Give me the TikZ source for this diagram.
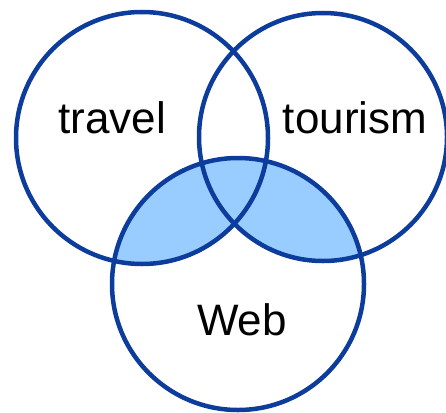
\documentclass[tikz,border=0pt]{standalone}
\usepackage{fontspec}
\setmainfont{Liberation Sans}
\definecolor{ringblue}{HTML}{0C3C9C}
\definecolor{fillblue}{HTML}{99CCFF}
\begin{document}
\begin{tikzpicture}[x=1pt,y=-1pt,
  ring/.style={draw=ringblue,line width=4.5pt},
  lbl/.style={anchor=base,font=\fontsize{44}{44}\selectfont,inner sep=0pt}]
\useasboundingbox (0,0) rectangle (446,412);
\coordinate (ct) at (142,138);
\coordinate (cr) at (323,137);
\coordinate (cw) at (238,284);
\begin{scope}
  \clip (cw) circle (126);
  \fill[fillblue] (ct) circle (126);
  \fill[fillblue] (cr) circle (124);
\end{scope}
\begin{scope}
  \clip (cw) circle (126);
  \clip (ct) circle (126);
  \fill[fillblue] (cr) circle (124);
\end{scope}
\node[ring,circle,minimum size=252pt,inner sep=0pt] (travelc) at (ct) {};
\node[ring,circle,minimum size=248pt,inner sep=0pt] (tourismc) at (cr) {};
\node[ring,circle,minimum size=252pt,inner sep=0pt] (webc) at (cw) {};
\node[lbl] (travel) at (112,133) {travel};
\node[lbl] (tourism) at (355,133) {tourism};
\node[lbl] (web) at (242,335) {Web};
\end{tikzpicture}
\end{document}
